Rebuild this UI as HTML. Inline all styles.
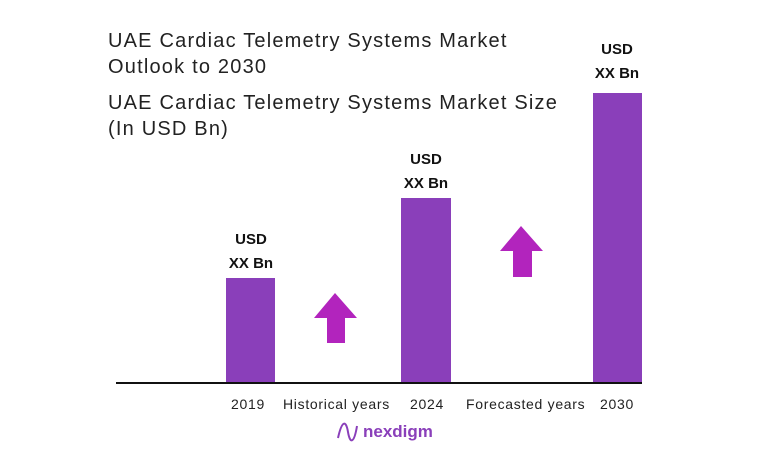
<!DOCTYPE html>
<html><head><style>
body{margin:0;width:757px;height:466px;background:#fff;position:relative;overflow:hidden;font-family:"Liberation Sans",sans-serif}
.t{position:absolute;left:108px;font-size:20px;color:#222;line-height:26px;letter-spacing:1.2px}
.bar{position:absolute;background:#8a3fba}
.v{position:absolute;font-weight:bold;font-size:15px;text-align:center;width:80px;line-height:24px;color:#111}
.l{position:absolute;top:396px;font-size:14px;color:#222;letter-spacing:0.7px}
</style></head><body>
<div class="t" style="top:28px">UAE Cardiac Telemetry Systems Market<br>Outlook to 2030</div>
<div class="t" style="top:90px">UAE Cardiac Telemetry Systems Market Size<br>(In USD Bn)</div>
<div class="bar" style="left:226px;top:278px;width:49px;height:106px"></div>
<div class="bar" style="left:401px;top:198px;width:50px;height:186px"></div>
<div class="bar" style="left:593px;top:93px;width:49px;height:291px"></div>
<div class="v" style="left:211px;top:228px">USD<br>XX Bn</div>
<div class="v" style="left:386px;top:148px">USD<br>XX Bn</div>
<div class="v" style="left:577px;top:38px">USD<br>XX Bn</div>
<div style="position:absolute;left:116px;top:382px;width:526px;height:2px;background:#111"></div>
<svg width="757" height="466" style="position:absolute;left:0;top:0">
<polygon points="335,293 357,318 345,318 345,343 327,343 327,318 314,318" fill="#b224bd"/>
<polygon points="521,226 543,251 532,251 532,277 513,277 513,251 500,251" fill="#b224bd"/>
<path d="M338,438 C342,420 346,420 348,432 C350,444 354,444 357,426" stroke="#8a3fba" stroke-width="2" fill="none"/>
</svg>
<div class="l" style="left:231px">2019</div>
<div class="l" style="left:283px">Historical years</div>
<div class="l" style="left:410px">2024</div>
<div class="l" style="left:466px">Forecasted years</div>
<div class="l" style="left:600px">2030</div>
<div style="position:absolute;left:363px;top:422px;font-size:17px;font-weight:bold;color:#8a3fba">nexdigm</div>
</body></html>
